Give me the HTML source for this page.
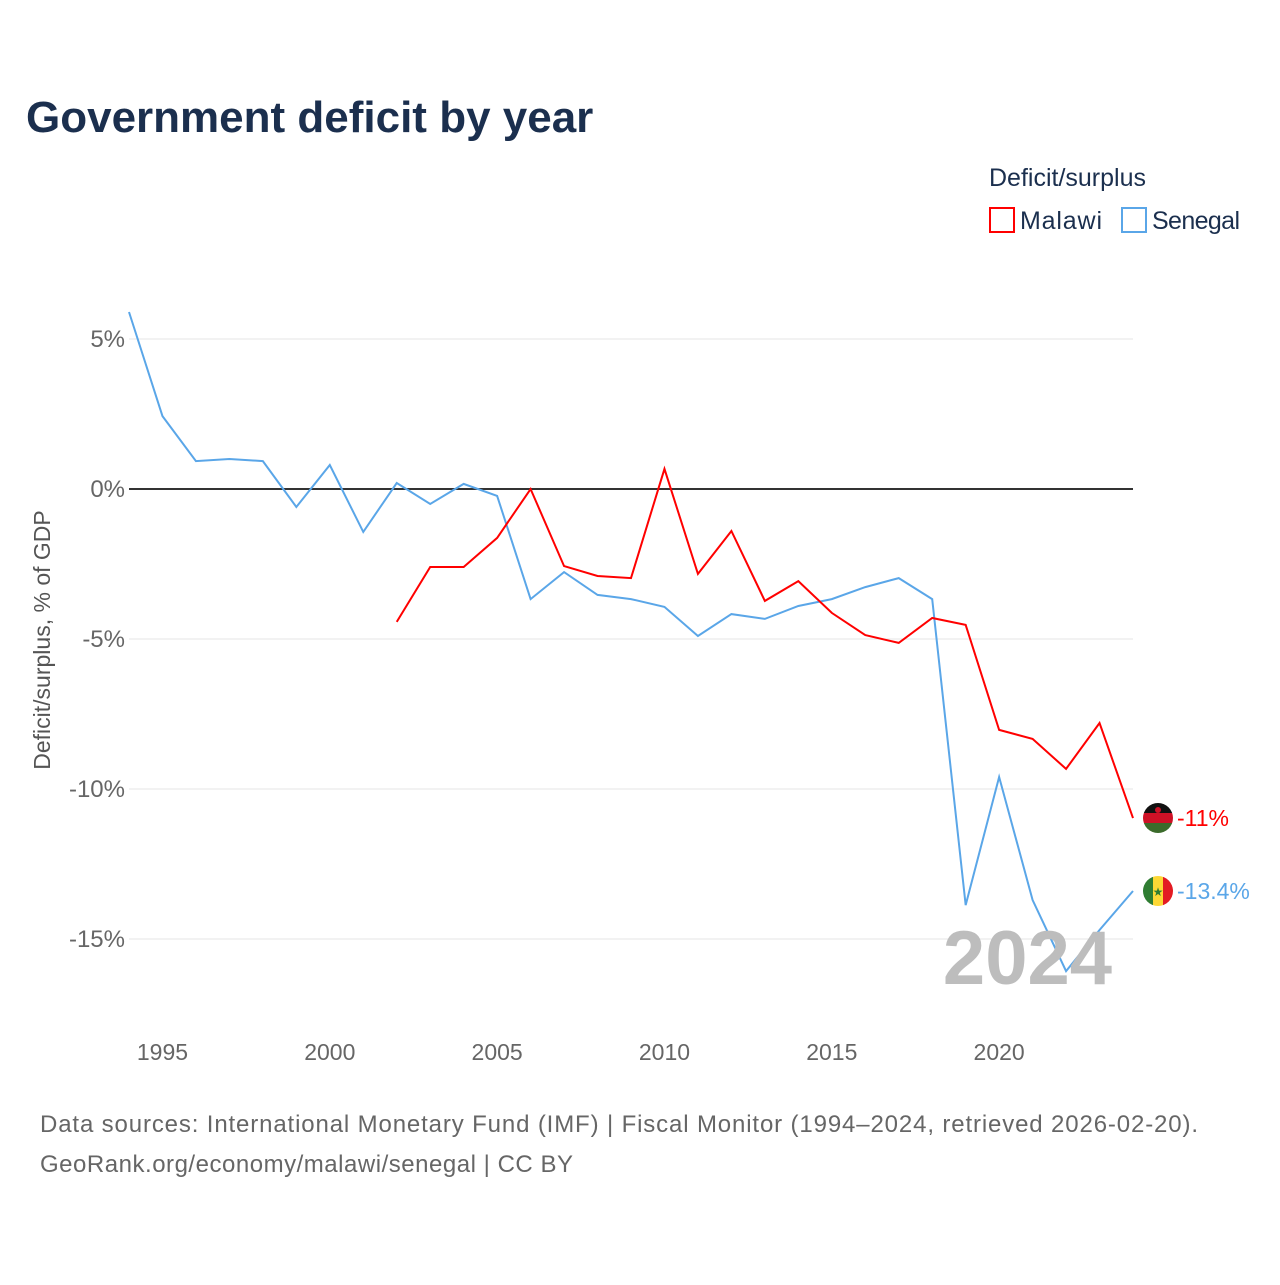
<!DOCTYPE html>
<html><head><meta charset="utf-8"><style>
body{margin:0;background:#fff;font-family:"Liberation Sans",sans-serif}
</style></head><body>
<svg width="1280" height="1280" xmlns="http://www.w3.org/2000/svg">
<defs>
<clipPath id="cm"><circle cx="1158" cy="818" r="15"/></clipPath>
<clipPath id="cs"><circle cx="1158" cy="891" r="15"/></clipPath>
</defs>
<text x="26" y="132" font-size="44" font-weight="bold" fill="#1b2f4e">Government deficit by year</text>
<text x="989" y="186" font-size="25" fill="#1b2f4e">Deficit/surplus</text>
<g><rect x="990" y="208" width="24" height="24" fill="none" stroke="#ff0000" stroke-width="2"/><text x="1020" y="229" font-size="25" fill="#1b2f4e" textLength="82">Malawi</text></g>
<g><rect x="1122" y="208" width="24" height="24" fill="none" stroke="#5aa6e8" stroke-width="2"/><text x="1152" y="229" font-size="25" fill="#1b2f4e" textLength="88">Senegal</text></g>
<g id="grid"></g><g id="yt"></g><g id="xt"></g><g id="lines"></g>
<g clip-path="url(#cm)">
<rect x="1143" y="803" width="30" height="10" fill="#111"/><rect x="1143" y="813" width="30" height="10" fill="#ce1126"/><rect x="1143" y="823" width="30" height="10" fill="#3b6b2b"/>
<circle cx="1158" cy="810" r="3" fill="#ce1126"/></g>
<g clip-path="url(#cs)">
<rect x="1143" y="876" width="10" height="30" fill="#2f7d32"/><rect x="1153" y="876" width="10" height="30" fill="#fdd835"/><rect x="1163" y="876" width="10" height="30" fill="#e31b23"/>
<text x="1158" y="896" font-size="12" fill="#2f7d32" text-anchor="middle">★</text></g>
<text x="1112" y="984" font-size="76" font-weight="bold" fill="#bdbdbd" text-anchor="end">2024</text>
<text transform="translate(50,640) rotate(-90)" font-size="23" fill="#555" text-anchor="middle">Deficit/surplus, % of GDP</text>
<text x="40" y="1132" font-size="24" fill="#666" textLength="1158">Data sources: International Monetary Fund (IMF) | Fiscal Monitor (1994–2024, retrieved 2026-02-20).</text>
<text x="40" y="1172" font-size="24" fill="#666" textLength="533">GeoRank.org/economy/malawi/senegal | CC BY</text>
</svg>
<script>
const yearsSen=[1994,1995,1996,1997,1998,1999,2000,2001,2002,2003,2004,2005,2006,2007,2008,2009,2010,2011,2012,2013,2014,2015,2016,2017,2018,2019,2020,2021,2022,2023,2024];
const senegal=[5.9,2.43,0.93,1.0,0.93,-0.6,0.8,-1.43,0.2,-0.5,0.17,-0.23,-3.67,-2.77,-3.53,-3.67,-3.93,-4.9,-4.17,-4.33,-3.9,-3.67,-3.27,-2.97,-3.67,-13.87,-9.6,-13.7,-16.07,-14.7,-13.4];
const yearsMal=[2002,2003,2004,2005,2006,2007,2008,2009,2010,2011,2012,2013,2014,2015,2016,2017,2018,2019,2020,2021,2022,2023,2024];
const malawi=[-4.43,-2.6,-2.6,-1.63,0,-2.57,-2.9,-2.97,0.67,-2.83,-1.4,-3.73,-3.07,-4.13,-4.87,-5.13,-4.3,-4.53,-8.03,-8.33,-9.33,-7.8,-10.97];
const yTicks=[5,0,-5,-10,-15];
const xTicks=[1995,2000,2005,2010,2015,2020];
const NS="http://www.w3.org/2000/svg";
const X=y=>129+(y-1994)*(1133-129)/30;
const Y=v=>489-v*30;
function mk(p,t,a){const e=document.createElementNS(NS,t);for(const k in a)e.setAttribute(k,a[k]);document.getElementById(p).appendChild(e);return e;}
yTicks.forEach(v=>{
 const l=mk('grid','line',{x1:129,x2:1133,y1:Y(v),y2:Y(v),stroke:v===0?'#333':'#e6e6e6','stroke-width':v===0?2:1});
 
 
 const t=mk('yt','text',{x:125,y:Y(v)+8,'font-size':24,fill:'#666','text-anchor':'end'});
 t.textContent=v+'%';
 
 
});
xTicks.forEach(v=>{
 const t=mk('xt','text',{x:X(v),y:1060,'font-size':23,fill:'#666','text-anchor':'middle'});
 t.textContent=v;
 
 
});
function line(ys,vs,c,name){
 const p=mk('lines','polyline',{points:ys.map((y,i)=>X(y)+','+Y(vs[i])).join(' '),fill:'none',stroke:c,'stroke-width':2});
 
 
 const lx=X(ys[ys.length-1])+25, ly=Y(vs[vs.length-1]);
 const t=mk('lines','text',{x:lx+19,y:ly+8,'font-size':23,fill:c});
 t.textContent=(Math.round(vs[vs.length-1]*10)/10)+'%';
 
 
}
line(yearsSen,senegal,'#5aa6e8','senegal-line');
line(yearsMal,malawi,'#ff0000','malawi-line');
</script>
</body></html>
